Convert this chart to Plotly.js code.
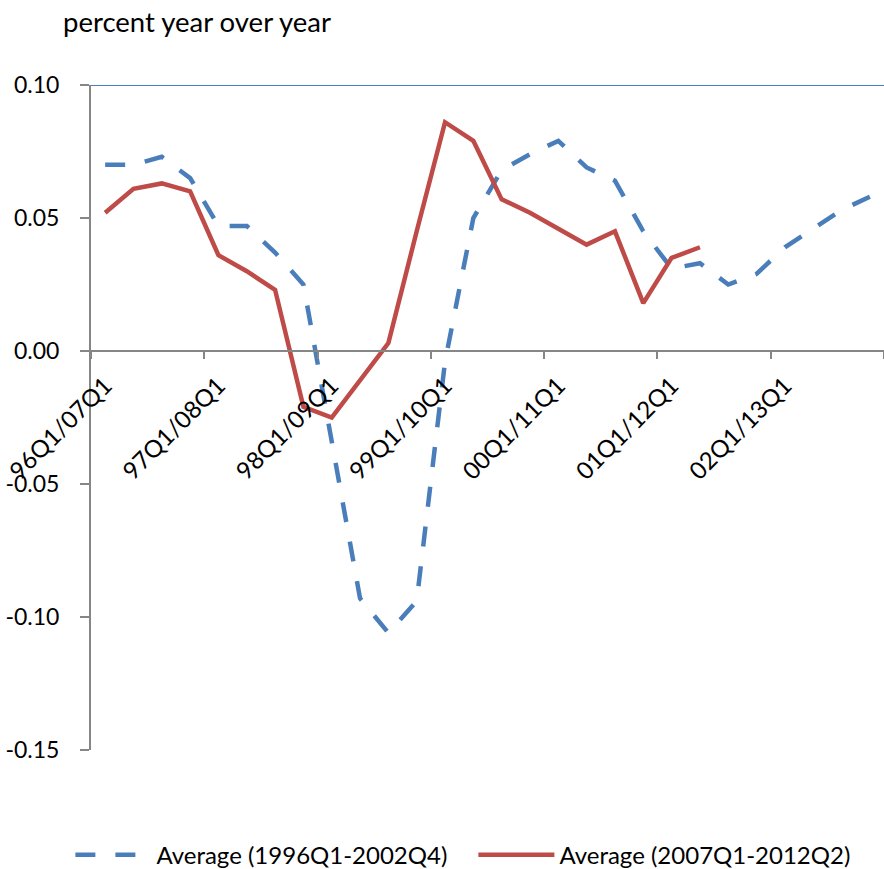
<!DOCTYPE html>
<html><head><meta charset="utf-8">
<script src="https://cdn.plot.ly/plotly-3.0.1.min.js"></script>
<style>html,body{margin:0;padding:0;background:#fff}#chart{width:884px;height:869px}</style>
</head><body><div id="chart"></div>
<script>
const categories = [
  "96Q1/07Q1","96Q2/07Q2","96Q3/07Q3","96Q4/07Q4",
  "97Q1/08Q1","97Q2/08Q2","97Q3/08Q3","97Q4/08Q4",
  "98Q1/09Q1","98Q2/09Q2","98Q3/09Q3","98Q4/09Q4",
  "99Q1/10Q1","99Q2/10Q2","99Q3/10Q3","99Q4/10Q4",
  "00Q1/11Q1","00Q2/11Q2","00Q3/11Q3","00Q4/11Q4",
  "01Q1/12Q1","01Q2/12Q2","01Q3/12Q3","01Q4/12Q4",
  "02Q1/13Q1","02Q2/13Q2","02Q3/13Q3","02Q4/13Q4"
];
const tickLabels = ["96Q1/07Q1","97Q1/08Q1","98Q1/09Q1","99Q1/10Q1","00Q1/11Q1","01Q1/12Q1","02Q1/13Q1"];
const seriesNames = ["Average (1996Q1-2002Q4)", "Average (2007Q1-2012Q2)"];
const avg1996 = [0.070, 0.070, 0.073, 0.065, 0.047, 0.047, 0.037, 0.025,
                 -0.034, -0.093, -0.106, -0.094, -0.004, 0.050, 0.068, 0.074,
                 0.079, 0.069, 0.064, 0.045, 0.031, 0.033, 0.025, 0.029,
                 0.039, 0.046, 0.053, 0.058];
const avg2007 = [0.052, 0.061, 0.063, 0.060, 0.036, 0.030, 0.023, -0.021,
                 -0.025, -0.011, 0.003, 0.045, 0.086, 0.079, 0.057, 0.052,
                 0.046, 0.040, 0.045, 0.018, 0.035, 0.039];
const yTicks = [-0.15, -0.10, -0.05, 0.00, 0.05, 0.10];
const chartTitle = "percent year over year";

const FONT = "Lato, 'Liberation Sans', sans-serif";
const n = categories.length;
const boundaryTicks = [];
for (let i = 0; i <= n; i += 4) boundaryTicks.push(i - 0.5);

const traces = [
  {x: categories.slice(0, avg1996.length), y: avg1996, name: seriesNames[0], type: 'scatter', mode: 'lines',
   line: {color: '#4A7EBB', width: 4.5, dash: '20px,20px'}},
  {x: categories.slice(0, avg2007.length), y: avg2007, name: seriesNames[1], type: 'scatter', mode: 'lines',
   line: {color: '#BE4B48', width: 4.5}},
  {x: [0], y: [0], xaxis: 'x2', yaxis: 'y', mode: 'markers', marker: {opacity: 0}, showlegend: false, hoverinfo: 'skip'}
];

const layout = {
  width: 884, height: 869,
  margin: {l: 91, r: 0, t: 84.5, b: 119, autoexpand: false},
  paper_bgcolor: '#fff', plot_bgcolor: '#fff',
  font: {family: FONT, size: 24, color: '#000'},
  showlegend: true,
  legend: {orientation: 'h', x: -0.026, xanchor: 'left', y: -0.158, yanchor: 'middle',
           font: {family: FONT, size: 24, color: '#000'}, itemwidth: 76,
           entrywidth: 312, entrywidthmode: 'pixels', traceorder: 'normal'},
  xaxis: {type: 'category', categoryarray: categories, range: [-0.5, n - 0.5],
          anchor: 'free', position: 0.6, showline: true, linecolor: '#868686', linewidth: 2,
          showgrid: false, zeroline: false, ticks: '', tickangle: -45, ticklabelstandoff: 10,
          tickmode: 'array', tickvals: tickLabels, ticktext: tickLabels,
          tickfont: {family: FONT, size: 24, color: '#000'}},
  xaxis2: {overlaying: 'x', anchor: 'free', position: 0.6, range: [-0.5, n - 0.5],
           showline: false, showgrid: false, zeroline: false, showticklabels: false,
           ticks: 'outside', ticklen: 7, tickwidth: 2, tickcolor: '#868686',
           tickmode: 'array', tickvals: boundaryTicks},
  yaxis: {range: [-0.15, 0.10], showline: true, linecolor: '#868686', linewidth: 2,
          showgrid: false, zeroline: false, ticks: 'outside', ticklen: 9, tickwidth: 2, tickcolor: '#868686',
          tickmode: 'array', tickvals: yTicks, ticktext: yTicks.map(v => v.toFixed(2)), ticklabelstandoff: 16,
          tickfont: {family: FONT, size: 23, color: '#000'}},
  shapes: [{type: 'line', xref: 'paper', yref: 'y', x0: 0, x1: 1, y0: 0.10, y1: 0.10,
            line: {color: '#4A7EBB', width: 2}}],
  annotations: [{text: chartTitle, xref: 'paper', yref: 'paper', x: -0.038, y: 1.096,
                 xanchor: 'left', yanchor: 'middle', showarrow: false,
                 font: {family: FONT, size: 27.5, color: '#000'}}]
};
Plotly.newPlot('chart', traces, layout, {displayModeBar: false, staticPlot: true});
</script></body></html>
